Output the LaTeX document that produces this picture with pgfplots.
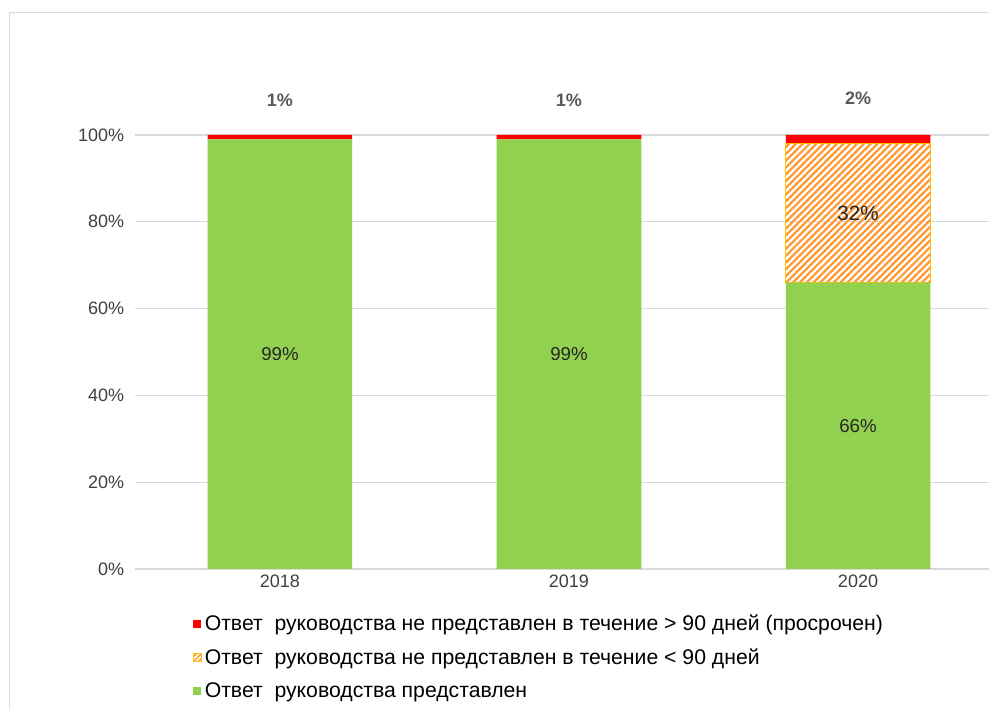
\documentclass[border=0pt]{standalone}
\usepackage{pgfplots}
\pgfplotsset{compat=1.18}
\usepackage{fontspec}
\setmainfont{Liberation Sans}
\usetikzlibrary{patterns.meta}
\definecolor{cgreen}{HTML}{92D050}
\definecolor{cred}{HTML}{FF0000}
\definecolor{corange}{HTML}{FF9933}
\definecolor{cborder}{HTML}{FFC000}
\definecolor{cgrid}{HTML}{D9D9D9}
\definecolor{ctext}{HTML}{404040}
\definecolor{clab}{HTML}{595959}
\begin{document}
\begin{tikzpicture}
\useasboundingbox (0,0) rectangle (741.75pt,531.75pt);
\fill[white] (0,0) rectangle (741.75pt,531.75pt);
\draw[cgrid, line width=1.2pt] (7pt,-5pt) -- (7pt,522.5pt) -- (760pt,522.5pt);
\begin{axis}[
  at={(101.6pt,105pt)}, anchor=south west,
  scale only axis, width=640.1pt, height=325.5pt,
  xmin=-0.5, xmax=2.453, ymin=0, ymax=100,
  ybar stacked, bar width=0.5,
  axis line style={draw=none},
  ymajorgrids, grid style={cgrid, line width=0.9pt},
  major tick length=0pt,
  ytick={0,20,40,60,80,100},
  yticklabel={\pgfmathprintnumber{\tick}\%},
  xtick={0,1,2}, xticklabels={2018,2019,2020},
  /pgf/number format/assume math mode=true,
  tick label style={font=\fontsize{13.5}{15}\selectfont, text=ctext},
  yticklabel style={xshift=-5pt},
  xticklabel style={yshift=-1pt},
  clip=false,
  reverse legend,
  legend cell align=left,
  legend style={at={(rel axis cs:0.062,-0.093)}, anchor=north west, draw=none, fill=none,
    font=\fontsize{15.9}{17}\selectfont, text=black, row sep=8pt,
    /tikz/every even column/.append style={column sep=0pt}},
]
\addplot[fill=cgreen, draw=none, legend image code/.code={\fill[cgreen] (0pt,-3pt) rectangle (6pt,3pt);}]
  coordinates {(0,99) (1,99) (2,66)};
\addlegendentry{Ответ\ \ руководства представлен}
\addplot[draw=cborder, line width=0.9pt, pattern={Lines[angle=45,distance=3.6pt,line width=1.7pt]}, pattern color=corange,
  legend image code/.code={\draw[cborder, line width=0.6pt, pattern={Lines[angle=45,distance=2.5pt,line width=1.1pt]}, pattern color=corange] (0pt,-3pt) rectangle (6pt,3pt);}]
  coordinates {(0,0) (1,0) (2,32)};
\addlegendentry{Ответ\ \ руководства не представлен в течение < 90 дней}
\addplot[fill=cred, draw=none, legend image code/.code={\fill[cred] (0pt,-3pt) rectangle (6pt,3pt);}]
  coordinates {(0,1) (1,1) (2,2)};
\addlegendentry{Ответ\ \ руководства не представлен в течение > 90 дней (просрочен)}
\coordinate (t0) at (axis cs:0,108);
\coordinate (t1) at (axis cs:1,108);
\coordinate (t2) at (axis cs:2,108.5);
\coordinate (g0) at (axis cs:0,49.5);
\coordinate (g1) at (axis cs:1,49.5);
\coordinate (g2) at (axis cs:2,33);
\coordinate (o2) at (axis cs:2,82);
\end{axis}
\node[font=\bfseries\fontsize{13.5}{15}\selectfont, text=clab] at (t0) {1\%};
\node[font=\bfseries\fontsize{13.5}{15}\selectfont, text=clab] at (t1) {1\%};
\node[font=\bfseries\fontsize{13.5}{15}\selectfont, text=clab] at (t2) {2\%};
\node[font=\fontsize{14}{16}\selectfont, text=black!85] at (g0) {99\%};
\node[font=\fontsize{14}{16}\selectfont, text=black!85] at (g1) {99\%};
\node[font=\fontsize{14}{16}\selectfont, text=black!85] at (g2) {66\%};
\node[font=\fontsize{15.5}{17}\selectfont, text=black!85] at (o2) {32\%};
\end{tikzpicture}
\end{document}
